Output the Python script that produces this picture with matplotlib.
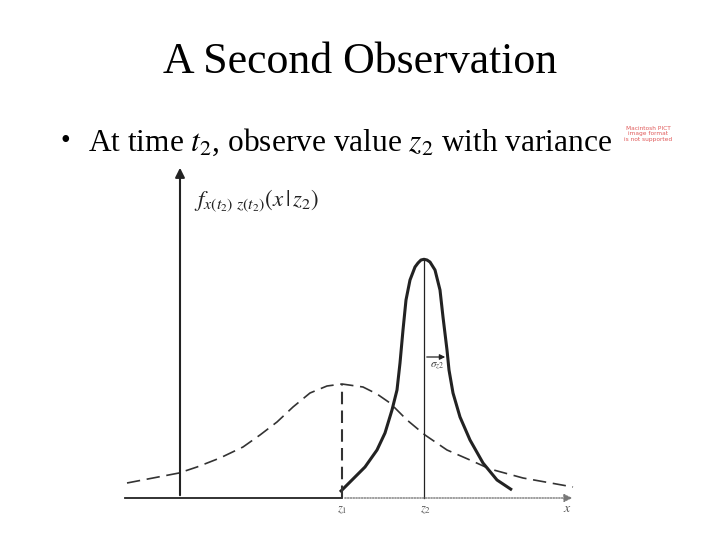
import numpy as np
import matplotlib
matplotlib.use("Agg")
import matplotlib.pyplot as plt

plt.rcParams['font.family'] = ['Liberation Serif', 'DejaVu Serif']
plt.rcParams['mathtext.fontset'] = 'stix'

# prior density (dashed)
prior_x = [-0.53, -0.01, 0.17, 0.40, 0.63, 0.80, 0.97, 1.13, 1.30, 1.47, 1.62,
           1.83, 1.97, 2.10, 2.27, 2.45, 2.67, 2.90, 3.10, 3.43, 3.93]
prior_y = [0.15, 0.25, 0.31, 0.40, 0.51, 0.63, 0.76, 0.91, 1.05, 1.12, 1.14,
           1.11, 1.04, 0.95, 0.78, 0.63, 0.48, 0.38, 0.29, 0.20, 0.11]

# measurement density (solid)
meas_x = [1.60, 1.72, 1.85, 1.97, 2.05, 2.12, 2.17, 2.20, 2.23, 2.26, 2.30,
          2.35, 2.38, 2.41, 2.44, 2.47, 2.50, 2.55, 2.60, 2.63, 2.67, 2.69,
          2.73, 2.80, 2.90, 3.03, 3.17, 3.32]
meas_y = [0.06, 0.18, 0.31, 0.48, 0.65, 0.88, 1.08, 1.35, 1.68, 1.98, 2.18,
          2.31, 2.35, 2.38, 2.387, 2.38, 2.36, 2.28, 2.08, 1.81, 1.48, 1.28,
          1.05, 0.81, 0.58, 0.35, 0.18, 0.08]

z1 = 1.62
z2 = 2.44
sigma_z2 = 0.24

fig = plt.figure(figsize=(7.2, 5.4), dpi=100)
ax = fig.add_axes([0, 0, 1, 1])
ax.set_xlim(-1.8, 5.4)
ax.set_ylim(-0.42, 4.98)
ax.axis('off')

ink = '#222222'

# axes of the sketch
ax.plot([-0.55, z1], [0, 0], color=ink, lw=1.3)
ax.annotate('', xy=(3.95, 0), xytext=(z1, 0),
            arrowprops=dict(arrowstyle='-|>', color='#777777', lw=1.0,
                            linestyle=(0, (1, 1)), mutation_scale=12))
ax.annotate('', xy=(0, 3.33), xytext=(0, 0),
            arrowprops=dict(arrowstyle='-|>', color=ink, lw=1.5, mutation_scale=14))

# curves
ax.plot(prior_x, prior_y, color='#333333', lw=1.2, dashes=(8, 4))
ax.plot(meas_x, meas_y, color=ink, lw=2.2, solid_capstyle='butt',
        solid_joinstyle='round')

# marker lines
ax.plot([z1, z1], [0, max(prior_y)], color='#333333', lw=1.5, dashes=(6, 3))
ax.plot([z2, z2], [0, max(meas_y)], color=ink, lw=0.9)
ax.annotate('', xy=(z2 + sigma_z2, 1.41), xytext=(z2, 1.41),
            arrowprops=dict(arrowstyle='-|>', color=ink, lw=0.9, mutation_scale=8))
ax.text(z2 + 0.06, 1.32, r'$\sigma_{z2}$', fontsize=8, color='#444444', va='center')

# labels
ax.text(z1, -0.12, r'$z_1$', fontsize=9, color='#555555', ha='center', va='center')
ax.text(z2 + 0.02, -0.12, r'$z_2$', fontsize=9, color='#555555', ha='center', va='center')
ax.text(3.87, -0.10, r'$x$', fontsize=10, color='#555555', ha='center', va='center')
ax.text(0.14, 2.98, r'$f_{x(t_2)\ z(t_2)}(x\,|\,z_2)$', fontsize=16.5, color=ink,
        ha='left', va='center')

# slide text
fig.text(0.5, 1 - 62 / 540, 'A Second Observation', fontsize=31.6,
         ha='center', va='center')
fig.text(60 / 720, 1 - 142 / 540, '\u2022', fontsize=20, ha='left', va='center')
fig.text(88 / 720, 1 - 142 / 540,
         r'At time $t_2$, observe value $z_2$ with variance', fontsize=22.6,
         ha='left', va='center')
fig.text(648 / 720, 1 - 134 / 540,
         'Macintosh PICT\nimage format\nis not supported', fontsize=4.2,
         color='#e05a5a', ha='center', va='center', linespacing=1.1,
         family='DejaVu Sans')

fig.savefig('out.png', dpi=100)
